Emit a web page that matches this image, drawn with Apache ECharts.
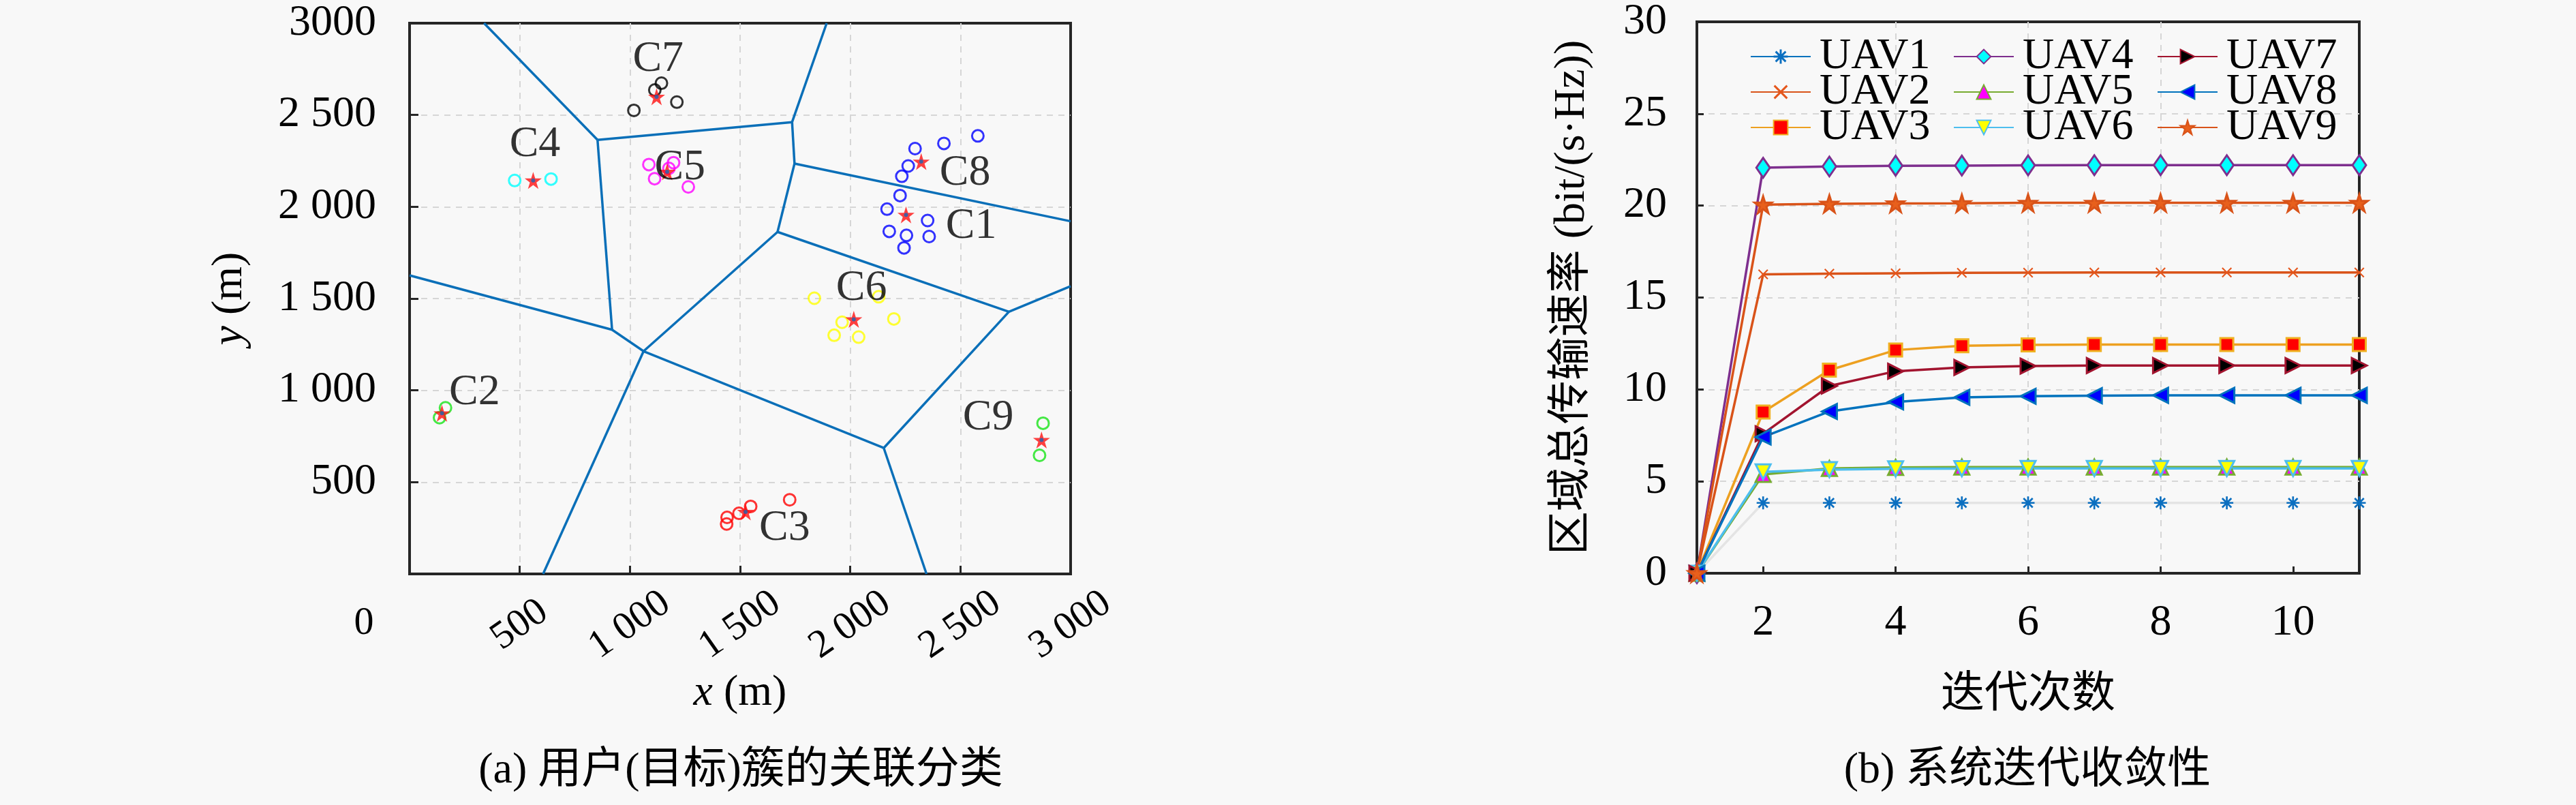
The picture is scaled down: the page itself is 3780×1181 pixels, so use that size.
<!DOCTYPE html>
<html>
<head>
<meta charset="utf-8">
<script src="https://cdn.jsdelivr.net/npm/echarts@6/dist/echarts.min.js"></script>
<style>
html,body{margin:0;padding:0;background:#f8f8f8;}
#chart{width:3780px;height:1181px;}
</style>
</head>
<body>
<div id="chart"></div>
<script>
// ================= DATA =================
// (a) user clusters, x/y in metres
const xTickLabelsA = {0:'', 500:'500', 1000:'1 000', 1500:'1 500', 2000:'2 000', 2500:'2 500', 3000:'3 000'};
const yTickLabelsA = {0:'', 500:'500', 1000:'1 000', 1500:'1 500', 2000:'2 000', 2500:'2 500', 3000:'3000'};

const usersC1 = [[2226,2061],[2167,1987],[2177,1866],[2255,1844],[2244,1776],[2351,1925],[2358,1838]];
const usersC2 = [[163,905],[136,851]];
const usersC3 = [[1725,404],[1548,368],[1495,330],[1441,308],[1439,272]];
const usersC4 = [[477,2143],[642,2151]];
const usersC5 = [[1086,2230],[1112,2153],[1198,2240],[1265,2108],[1177,2209]];
const usersC6 = [[1837,1502],[2129,1510],[1963,1371],[2198,1389],[1927,1300],[2038,1290]];
const usersC7 = [[1143,2673],[1113,2636],[1213,2570],[1018,2525]];
const usersC8 = [[2579,2386],[2425,2345],[2294,2317],[2263,2222],[2234,2166]];
const usersC9 = [[2875,821],[2859,646]];

const clusterNames = ['C1','C2','C3','C4','C5','C6','C7','C8','C9'];
const clusterCenters = [[2253,1956],[147,875],[1525,338],[561,2143],[1169,2191],[2016,1387],[1121,2599],[2322,2246],[2868,730]];
const clusterLabelAnchors = [[2549,1894],[295,988],[1702,247],[569,2339],[1227,2212],[2051,1554],[1128,2803],[2521,2182],[2626,851]];

const voronoiEdges = [
  [[338,3000],[853,2364]],
  [[853,2364],[1736,2461]],
  [[1736,2461],[1893,3000]],
  [[853,2364],[919,1330]],
  [[1736,2461],[1747,2235]],
  [[1747,2235],[3000,1921]],
  [[1747,2235],[1670,1863]],
  [[1670,1863],[2720,1428]],
  [[2720,1428],[3000,1567]],
  [[1670,1863],[1062,1213]],
  [[0,1626],[919,1330]],
  [[919,1330],[1062,1213]],
  [[1062,1213],[2152,686]],
  [[2152,686],[2720,1428]],
  [[2152,686],[2346,0]],
  [[1062,1213],[606,0]]
];

// (b) convergence
const iterations = ['1','2','3','4','5','6','7','8','9','10','11'];
const uav1 = [0, 3.83, 3.83, 3.83, 3.83, 3.83, 3.83, 3.83, 3.83, 3.83, 3.83];
const uav2 = [0, 16.26, 16.30, 16.32, 16.34, 16.35, 16.36, 16.36, 16.36, 16.36, 16.36];
const uav3 = [0, 8.77, 11.05, 12.14, 12.38, 12.42, 12.44, 12.44, 12.44, 12.44, 12.44];
const uav4 = [0, 22.06, 22.13, 22.17, 22.18, 22.19, 22.2, 22.2, 22.2, 22.2, 22.2];
const uav5 = [0, 5.38, 5.70, 5.76, 5.78, 5.78, 5.78, 5.78, 5.78, 5.78, 5.78];
const uav6 = [0, 5.52, 5.64, 5.68, 5.69, 5.70, 5.70, 5.70, 5.70, 5.70, 5.70];
const uav7 = [0, 7.59, 10.19, 10.99, 11.20, 11.27, 11.30, 11.30, 11.30, 11.30, 11.30];
const uav8 = [0, 7.41, 8.80, 9.32, 9.57, 9.63, 9.66, 9.68, 9.68, 9.68, 9.68];
const uav9 = [0, 20.05, 20.10, 20.12, 20.13, 20.15, 20.15, 20.15, 20.15, 20.15, 20.15];

// ================= STYLE =================
const FONT = "'Liberation Serif','Noto Sans CJK SC',serif";
const FS = 64;
const FRAME = '#262626';
const GRIDLINE = {show:true, showMinLine:false, showMaxLine:false, lineStyle:{color:'#d6d6d6', width:2, type:[9,8]}};

const STAR = 'path://M50 0 L61.23 34.55 L97.55 34.55 L68.17 55.9 L79.39 90.45 L50 69.1 L20.61 90.45 L31.83 55.9 L2.45 34.55 L38.77 34.55 Z';
const ASTERISK = 'path://M0 43 L100 43 L100 57 L0 57 Z M43 0 L57 0 L57 100 L43 100 Z M9.6 19.5 L19.5 9.6 L90.4 80.5 L80.5 90.4 Z M80.5 9.6 L90.4 19.5 L19.5 90.4 L9.6 80.5 Z';
const XMARK = 'path://M0 10 L10 0 L100 90 L90 100 Z M90 0 L100 10 L10 100 L0 90 Z';
const TRI_DOWN = 'path://M0 0 L100 0 L50 100 Z';
const TRI_RIGHT = 'path://M0 0 L100 50 L0 100 Z';
const TRI_LEFT = 'path://M100 0 L100 100 L0 50 Z';

const clusterUsers = [usersC1,usersC2,usersC3,usersC4,usersC5,usersC6,usersC7,usersC8,usersC9];
const clusterColors = ['#0000ff','#18e418','#ff0000','#00ffff','#ff00ff','#ffff00','#000000','#0000ff','#18e418'];

const series = [];
series.push({
  type:'lines', name:'voronoi', coordinateSystem:'cartesian2d', xAxisIndex:0, yAxisIndex:0,
  polyline:false, silent:true, z:2,
  lineStyle:{color:'#0a6fb8', width:3.5, opacity:1},
  data: voronoiEdges.map(e => ({coords:e}))
});
clusterUsers.forEach((pts,i) => {
  series.push({
    type:'scatter', name:'users '+clusterNames[i], xAxisIndex:0, yAxisIndex:0, z:3,
    symbol:'circle', symbolSize:17,
    itemStyle:{color:'rgba(0,0,0,0)', borderColor:clusterColors[i], borderWidth:3},
    data: pts
  });
});
series.push({
  type:'scatter', name:'centers', xAxisIndex:0, yAxisIndex:0, z:4,
  symbol:STAR, symbolSize:25, itemStyle:{color:'#ff1010'}, data: clusterCenters
});
series.push({
  type:'scatter', name:'uav pos', xAxisIndex:0, yAxisIndex:0, z:5,
  symbol:'circle', symbolSize:6, itemStyle:{color:'#1c64b4'}, data: clusterCenters
});
series.push({
  type:'scatter', name:'cluster labels', xAxisIndex:0, yAxisIndex:0, z:6,
  symbol:'circle', symbolSize:1, itemStyle:{color:'rgba(0,0,0,0)'},
  label:{show:true, position:'inside', formatter:'{b}', fontFamily:FONT, fontSize:FS, color:'#000'},
  data: clusterNames.map((n,i) => ({name:n, value:clusterLabelAnchors[i]}))
});

function uavSeries(name, data, symbol, size, lineColor, fill, border, lineOverride) {
  return {
    type:'line', name, xAxisIndex:1, yAxisIndex:1, data, symbol, symbolSize:size,
    showAllSymbol:true, z:3,
    lineStyle:{color: lineOverride || lineColor, width:3.5},
    itemStyle:{color:fill, borderColor:border, borderWidth: border ? 3 : 0}
  };
}
series.push(uavSeries('UAV1', uav1, ASTERISK, 19, '#0072BD', '#0b6fc0', null, '#e4e4e4'));
series.push(uavSeries('UAV2', uav2, XMARK, 15, '#D95319', '#e5561c', null));
series.push(uavSeries('UAV3', uav3, 'rect', 19, '#EDA020', '#ff0000', '#f0b020'));
series.push(uavSeries('UAV4', uav4, 'diamond', [20,29], '#7E2F8E', '#00ffff', '#7E2F8E'));
series.push(uavSeries('UAV5', uav5, 'triangle', 22, '#77AC30', '#ff00ff', '#77AC30'));
series.push(uavSeries('UAV6', uav6, TRI_DOWN, 22, '#4DBEEE', '#ffff00', '#4DBEEE'));
series.push(uavSeries('UAV7', uav7, TRI_RIGHT, 22, '#A2142F', '#000000', '#A2142F'));
series.push(uavSeries('UAV8', uav8, TRI_LEFT, 22, '#0072BD', '#0000ff', '#0072BD'));
series.push(uavSeries('UAV9', uav9, STAR, 25, '#D95319', '#e8601c', '#d95319'));

const legendCommon = {
  orient:'vertical', top:51, padding:0, itemWidth:88, itemHeight:26, itemGap:-12,
  selectedMode:false,
  textStyle:{fontFamily:FONT, fontSize:FS, color:'#000', padding:[0,0,0,8]}
};

const tickStyle = {show:true, inside:true, length:12, lineStyle:{color:FRAME, width:3}};
const frameLine = {show:true, lineStyle:{color:FRAME, width:4}};
const oddIdx = (idx) => idx % 2 === 1;

const option = {
  backgroundColor:'#f8f8f8',
  animation:false,
  grid:[
    {left:601, top:34, width:970, height:808, show:true, borderColor:FRAME, borderWidth:4, backgroundColor:'rgba(0,0,0,0)'},
    {left:2490, top:32, width:972, height:809, show:true, borderColor:FRAME, borderWidth:4, backgroundColor:'rgba(0,0,0,0)'}
  ],
  legend:[
    Object.assign({}, legendCommon, {left:2568, data:[{name:'UAV1', lineStyle:{color:'#0072BD'}}, 'UAV2', 'UAV3']}),
    Object.assign({}, legendCommon, {left:2866, data:['UAV4','UAV5','UAV6']}),
    Object.assign({}, legendCommon, {left:3165, data:['UAV7','UAV8','UAV9']})
  ],
  xAxis:[
    {
      type:'value', gridIndex:0, min:0, max:3000, interval:500,
      axisLine:frameLine, axisTick:tickStyle, splitLine:GRIDLINE,
      axisLabel:{rotate:35, align:'center', verticalAlign:'middle', margin:75,
        fontFamily:FONT, fontSize:58, color:'#000', formatter:(v)=>xTickLabelsA[v]},
      name:'{i|x} (m)', nameLocation:'middle', nameGap:143,
      nameTextStyle:{fontFamily:FONT, fontSize:FS, color:'#000', rich:{i:{fontFamily:FONT, fontSize:FS, fontStyle:'italic', color:'#000'}}}
    },
    {
      type:'category', gridIndex:1, data:iterations, boundaryGap:false,
      axisLine:frameLine,
      axisTick:Object.assign({}, tickStyle, {interval:oddIdx, length:10}),
      splitLine:Object.assign({}, GRIDLINE, {interval:oddIdx}),
      axisLabel:{interval:oddIdx, margin:41, fontFamily:FONT, fontSize:FS, color:'#000'},
      name:'迭代次数', nameLocation:'middle', nameGap:140,
      nameTextStyle:{fontFamily:"'Noto Sans CJK SC',sans-serif", fontSize:FS, color:'#000'}
    }
  ],
  yAxis:[
    {
      type:'value', gridIndex:0, min:0, max:3000, interval:500,
      axisLine:frameLine, axisTick:Object.assign({}, tickStyle, {length:13}), splitLine:GRIDLINE,
      axisLabel:{margin:49, fontFamily:FONT, fontSize:FS, color:'#000', formatter:(v)=>yTickLabelsA[v]},
      name:'{i|y} (m)', nameLocation:'middle', nameGap:232,
      nameTextStyle:{fontFamily:FONT, fontSize:FS, color:'#000', rich:{i:{fontFamily:FONT, fontSize:FS, fontStyle:'italic', color:'#000'}}}
    },
    {
      type:'value', gridIndex:1, min:0, max:30, interval:5,
      axisLine:frameLine, axisTick:Object.assign({}, tickStyle, {length:10}), splitLine:GRIDLINE,
      axisLabel:{margin:44, fontFamily:FONT, fontSize:FS, color:'#000'},
      name:'区域总传输速率 (bit/(s·Hz))', nameLocation:'middle', nameGap:151,
      nameTextStyle:{fontFamily:FONT, fontSize:FS, color:'#000'}
    }
  ],
  graphic:[
    {type:'text', x:534, y:915, z:10, style:{text:'0', font:'58px '+FONT, fill:'#000', align:'center', verticalAlign:'middle'}},
    {type:'text', x:1087, y:1131, z:10, style:{text:'(a) 用户(目标)簇的关联分类', font:FS+'px '+FONT, fill:'#000', align:'center', verticalAlign:'middle'}},
    {type:'text', x:2975, y:1131, z:10, style:{text:'(b) 系统迭代收敛性', font:FS+'px '+FONT, fill:'#000', align:'center', verticalAlign:'middle'}}
  ],
  series
};

const chart = echarts.init(document.getElementById('chart'), null, {renderer:'canvas'});
chart.setOption(option);
</script>
</body>
</html>
